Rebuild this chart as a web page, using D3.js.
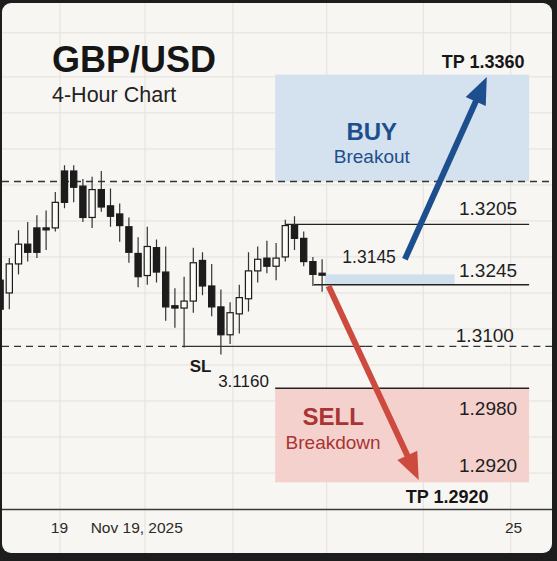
<!DOCTYPE html>
<html>
<head>
<meta charset="utf-8">
<script src="https://cdn.jsdelivr.net/npm/d3@7"></script>
<style>
  html, body { margin: 0; padding: 0; background: #1d1d1d; }
  svg { display: block; font-family: "Liberation Sans", Arial, sans-serif; }
</style>
</head>
<body>
<svg id="chart" width="557" height="561"></svg>
<script>
// 4h bars, [open, high, low, close]
const candles = [
  [1.3157, 1.3166, 1.3123, 1.3132],
  [1.3146, 1.3176, 1.3132, 1.3171],
  [1.3171, 1.3200, 1.3162, 1.3188],
  [1.3188, 1.3207, 1.3173, 1.3181],
  [1.3202, 1.3213, 1.3176, 1.3181],
  [1.3202, 1.3217, 1.3183, 1.3201],
  [1.3202, 1.3233, 1.3199, 1.3224],
  [1.3251, 1.3256, 1.3219, 1.3224],
  [1.3251, 1.3256, 1.3224, 1.3237],
  [1.3238, 1.3244, 1.3207, 1.3211],
  [1.3211, 1.3246, 1.3202, 1.3235],
  [1.3235, 1.3251, 1.3216, 1.3220],
  [1.3221, 1.3236, 1.3203, 1.3212],
  [1.3214, 1.3223, 1.3190, 1.3204],
  [1.3203, 1.3211, 1.3172, 1.3181],
  [1.3180, 1.3194, 1.3151, 1.3160],
  [1.3161, 1.3203, 1.3153, 1.3186],
  [1.3185, 1.3192, 1.3155, 1.3164],
  [1.3164, 1.3186, 1.3122, 1.3134],
  [1.3135, 1.3150, 1.3116, 1.3133],
  [1.3133, 1.3160, 1.3099, 1.3139],
  [1.3139, 1.3185, 1.3129, 1.3172],
  [1.3174, 1.3181, 1.3144, 1.3152],
  [1.3152, 1.3171, 1.3126, 1.3134],
  [1.3134, 1.3149, 1.3093, 1.3110],
  [1.3110, 1.3138, 1.3102, 1.3129],
  [1.3128, 1.3153, 1.3111, 1.3142],
  [1.3141, 1.3181, 1.3130, 1.3165],
  [1.3165, 1.3186, 1.3155, 1.3175],
  [1.3176, 1.3191, 1.3163, 1.3169],
  [1.3169, 1.3189, 1.3157, 1.3176],
  [1.3177, 1.3209, 1.3173, 1.3204],
  [1.3204, 1.3212, 1.3183, 1.3193],
  [1.3193, 1.3199, 1.3169, 1.3173],
  [1.3173, 1.3177, 1.3152, 1.3162],
  [1.3163, 1.3175, 1.3147, 1.3162]
]

// grid (bar index / price)
const gridBars = [6.5, 15.75, 25.3, 35.5, 46, 55.5]
const gridPrices = [1.2991, 1.3022, 1.3053, 1.3084, 1.3115, 1.3146, 1.3177, 1.3208, 1.3239, 1.3270, 1.3301, 1.3332, 1.3370]

// x axis labels
const xTicks = [6.4, 14.8, 55.75]
const xTickLabels = ['19', 'Nov 19, 2025', '25']

// zones [fromBar, toBar, lowPrice, highPrice]
const buyZone = [29.9, 57.5, 1.3242, 1.3334]
const sellZone = [29.9, 57.5, 1.2983, 1.3064]
const entryBand = [35.3, 49.4, 1.3153, 1.3162]

// horizontal levels: [price, fromBar, toBar]
const resistanceLine = [1.3205, 31, 57.5]
const supportLine = [1.3153, 34.1, 57.5]
const sellZoneTop = [1.3064, 29.9, 57.5]
const upperDashed = 1.3242
const stopLine = 1.3100
const stopSolid = [20.1, 39.7]

// arrows [[bar, price], [bar, price]]
const buyArrow = [[44.0, 1.3175], [52.9, 1.3332]]
const sellArrow = [[35.7, 1.3152], [45.5, 1.2985]]

// labels [text, bar, price]
const priceLabels = [
  ['1.3205', 56.2, 1.3213],
  ['1.3245', 56.2, 1.3160],
  ['1.3100', 55.85, 1.3104],
  ['1.2980', 56.2, 1.3041],
  ['1.2920', 56.2, 1.2992]
]
const entryLabel = ['1.3145', 37.2, 1.3172]
const tpLabels = [
  ['TP 1.3360', 52.5, 1.3340],
  ['TP 1.2920', 48.6, 1.2965]
]
const slLabel = ['SL', 21.8, 1.3078]
const slValue = ['3.1160', 23.7, 1.3065]
const buyTitle = [['BUY', 40.4, 1.3278], ['Breakout', 40.4, 1.3258]]
const sellTitle = [['SELL', 36.2, 1.3032], ['Breakdown', 36.2, 1.3012]]

const card = { x: 2, y: 3, w: 550, h: 550 }

const svg = d3.select('#chart')

const x = d3.scaleLinear().domain([0, 60]).range([0.1, 552.1])
const y = d3.scaleLinear().domain([1.2960, 1.3350]).range([509, 56])

svg.append('defs').append('clipPath')
    .attr('id', 'card-clip')
  .append('rect')
    .attr('x', card.x).attr('y', card.y)
    .attr('width', card.w).attr('height', card.h)
    .attr('rx', 9)

svg.append('rect')
  .attr('x', card.x).attr('y', card.y)
  .attr('width', card.w).attr('height', card.h)
  .attr('rx', 9)
  .attr('fill', '#f8f6f2')

const g = svg.append('g').attr('clip-path', 'url(#card-clip)')

// grid
g.selectAll('line.vgrid').data(gridBars)
  .enter().append('line')
    .attr('class', 'vgrid')
    .attr('x1', d => x(d)).attr('x2', d => x(d))
    .attr('y1', card.y).attr('y2', card.y + card.h)
    .attr('stroke', '#e4e1dc')
    .attr('stroke-width', 1)

g.selectAll('line.hgrid').data(gridPrices)
  .enter().append('line')
    .attr('class', 'hgrid')
    .attr('x1', card.x).attr('x2', card.x + card.w)
    .attr('y1', d => y(d)).attr('y2', d => y(d))
    .attr('stroke', '#e4e1dc')
    .attr('stroke-width', 1)

// zones
function zone(z, fill) {
  g.append('rect')
    .attr('x', x(z[0]))
    .attr('y', y(z[3]))
    .attr('width', x(z[1]) - x(z[0]))
    .attr('height', y(z[2]) - y(z[3]))
    .attr('fill', fill)
}
zone(buyZone, '#d3e2ee')
zone(sellZone, '#f5d1cd')
zone(entryBand, '#cfe0ec')

// level lines
function level(l) {
  g.append('line')
    .attr('x1', x(l[1])).attr('x2', x(l[2]))
    .attr('y1', y(l[0])).attr('y2', y(l[0]))
    .attr('stroke', '#222')
    .attr('stroke-width', 1.4)
}
level(resistanceLine)
level(supportLine)
level(sellZoneTop)

g.append('line')
  .attr('x1', card.x).attr('x2', card.x + card.w)
  .attr('y1', y(upperDashed)).attr('y2', y(upperDashed))
  .attr('stroke', '#333')
  .attr('stroke-width', 1.4)
  .attr('stroke-dasharray', '7,5')

// stop line: dashed / solid / dashed
const stopSegs = [
  [card.x, x(stopSolid[0]), true],
  [x(stopSolid[0]), x(stopSolid[1]), false],
  [x(stopSolid[1]), card.x + card.w, true]
]
g.selectAll('line.stop').data(stopSegs)
  .enter().append('line')
    .attr('class', 'stop')
    .attr('x1', d => d[0]).attr('x2', d => d[1])
    .attr('y1', y(stopLine)).attr('y2', y(stopLine))
    .attr('stroke', '#333')
    .attr('stroke-width', 1.4)
    .attr('stroke-dasharray', d => d[2] ? '7,5' : null)

// candles
const bodyW = 6.2
const bars = g.selectAll('g.candle').data(candles)
  .enter().append('g')
    .attr('class', 'candle')
    .attr('transform', (d, i) => `translate(${ x(i) },0)`)

bars.append('line')
  .attr('y1', d => y(d[1]))
  .attr('y2', d => y(d[2]))
  .attr('stroke', '#333')
  .attr('stroke-width', 1.2)

bars.append('rect')
  .attr('x', -bodyW / 2)
  .attr('width', bodyW)
  .attr('y', d => y(Math.max(d[0], d[3])))
  .attr('height', d => Math.max(2, Math.abs(y(d[0]) - y(d[3]))))
  .attr('fill', d => d[3] < d[0] ? '#1c1c1c' : '#fbfaf7')
  .attr('stroke', '#1c1c1c')
  .attr('stroke-width', 1.2)

// arrows
function arrow(a, color) {
  const x0 = x(a[0][0]), y0 = y(a[0][1])
  const x1 = x(a[1][0]), y1 = y(a[1][1])
  const len = Math.hypot(x1 - x0, y1 - y0)
  const ux = (x1 - x0) / len, uy = (y1 - y0) / len
  const head = 27, half = 11
  const bx = x1 - ux * head, by = y1 - uy * head
  g.append('line')
    .attr('x1', x0).attr('y1', y0)
    .attr('x2', x1 - ux * head * 0.7).attr('y2', y1 - uy * head * 0.7)
    .attr('stroke', color)
    .attr('stroke-width', 6)
  g.append('path')
    .attr('d', `M${x1},${y1}L${bx - uy * half},${by + ux * half}L${bx + uy * half},${by - ux * half}Z`)
    .attr('fill', color)
}
arrow(buyArrow, '#1d4f8f')
arrow(sellArrow, '#cd4a3f')

// x axis
const xAxis = d3.axisBottom(x)
  .tickValues(xTicks)
  .tickFormat((d, i) => xTickLabels[i])
  .tickSize(0)
  .tickPadding(13)

const axisG = g.append('g')
  .attr('transform', `translate(0,${ y(1.2960) })`)
  .call(xAxis)
axisG.select('.domain').attr('stroke', '#3a3a3a').attr('stroke-width', 1.6)
axisG.selectAll('text')
  .attr('font-family', '"Liberation Sans", Arial, sans-serif')
  .attr('font-size', 15.5)
  .attr('fill', '#2a2a2a')

// titles
svg.append('text')
  .attr('x', 52).attr('y', 72)
  .attr('font-size', 36).attr('font-weight', 'bold')
  .attr('fill', '#161616')
  .text('GBP/USD')

svg.append('text')
  .attr('x', 52).attr('y', 102)
  .attr('font-size', 21.5)
  .attr('fill', '#222')
  .text('4-Hour Chart')

// labels
svg.selectAll('text.price').data(priceLabels)
  .enter().append('text')
    .attr('class', 'price')
    .attr('x', d => x(d[1])).attr('y', d => y(d[2]))
    .attr('text-anchor', 'end')
    .attr('font-size', 19)
    .attr('fill', '#1e1e1e')
    .text(d => d[0])

svg.append('text')
  .attr('x', x(entryLabel[1])).attr('y', y(entryLabel[2]))
  .attr('font-size', 17.5)
  .attr('fill', '#1e1e1e')
  .text(entryLabel[0])

svg.selectAll('text.tp').data(tpLabels)
  .enter().append('text')
    .attr('class', 'tp')
    .attr('x', d => x(d[1])).attr('y', d => y(d[2]))
    .attr('text-anchor', 'middle')
    .attr('font-size', 18).attr('font-weight', 'bold')
    .attr('fill', '#161616')
    .text(d => d[0])

svg.append('text')
  .attr('x', x(slLabel[1])).attr('y', y(slLabel[2]))
  .attr('text-anchor', 'middle')
  .attr('font-size', 17).attr('font-weight', 'bold')
  .attr('fill', '#1a1a1a')
  .text(slLabel[0])

svg.append('text')
  .attr('x', x(slValue[1])).attr('y', y(slValue[2]))
  .attr('font-size', 17)
  .attr('fill', '#1a1a1a')
  .text(slValue[0])

// zone titles
function zoneTitle(t, color) {
  svg.append('text')
    .attr('x', x(t[0][1])).attr('y', y(t[0][2]))
    .attr('text-anchor', 'middle')
    .attr('font-size', 24).attr('font-weight', 'bold')
    .attr('fill', color)
    .text(t[0][0])
  svg.append('text')
    .attr('x', x(t[1][1])).attr('y', y(t[1][2]))
    .attr('text-anchor', 'middle')
    .attr('font-size', 19)
    .attr('fill', color)
    .text(t[1][0])
}
zoneTitle(buyTitle, '#1f4e8c')
zoneTitle(sellTitle, '#a83434')
</script>
</body>
</html>
